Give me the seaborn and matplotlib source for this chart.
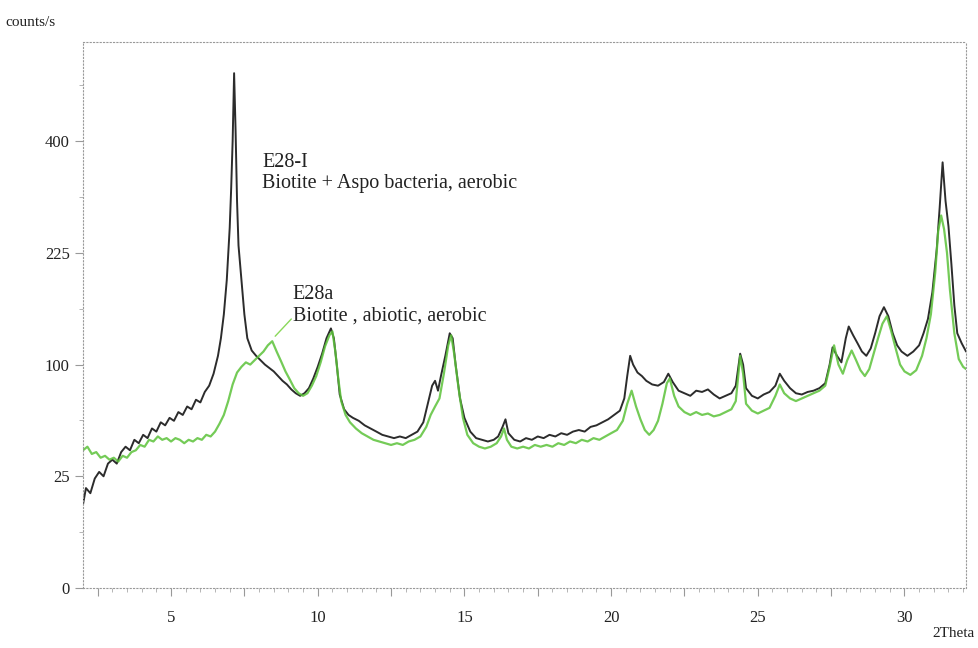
import numpy as np
import pandas as pd
import matplotlib
matplotlib.use('Agg')
import matplotlib.pyplot as plt
import seaborn as sns
from matplotlib.ticker import FixedLocator, NullFormatter

# XRD pattern (2Theta, counts/s)
theta_bact = [2.0, 2.1, 2.25, 2.4, 2.55, 2.7, 2.85, 3.0, 3.15, 3.3, 3.45, 3.6, 3.75, 3.9, 4.05, 4.2,
              4.35, 4.5, 4.65, 4.8, 4.95, 5.1, 5.25, 5.4, 5.55, 5.7, 5.85, 6.0, 6.15, 6.3, 6.45, 6.6,
              6.7, 6.8, 6.9, 7.0, 7.05, 7.1, 7.15, 7.2, 7.25, 7.3, 7.4, 7.5, 7.6, 7.75, 7.9, 8.05,
              8.2, 8.35, 8.5, 8.65, 8.8, 8.95, 9.1, 9.25, 9.4, 9.55, 9.7, 9.85, 10.0, 10.15, 10.3,
              10.45, 10.55, 10.65, 10.75, 10.9, 11.05, 11.2, 11.4, 11.6, 11.8, 12.0, 12.2, 12.4,
              12.6, 12.8, 13.0, 13.2, 13.4, 13.6, 13.75, 13.9, 14.0, 14.1, 14.2, 14.35, 14.5, 14.6,
              14.7, 14.85, 15.0, 15.2, 15.4, 15.6, 15.8, 16.0, 16.15, 16.3, 16.4, 16.5, 16.7, 16.9,
              17.1, 17.3, 17.5, 17.7, 17.9, 18.1, 18.3, 18.5, 18.7, 18.9, 19.1, 19.3, 19.5, 19.7,
              19.9, 20.1, 20.3, 20.45, 20.55, 20.65, 20.75, 20.9, 21.05, 21.2, 21.4, 21.6, 21.8,
              21.95, 22.1, 22.3, 22.5, 22.7, 22.9, 23.1, 23.3, 23.5, 23.7, 23.9, 24.1, 24.25, 24.4,
              24.5, 24.6, 24.8, 25.0, 25.2, 25.4, 25.6, 25.75, 25.9, 26.1, 26.3, 26.5, 26.7, 26.9,
              27.1, 27.3, 27.45, 27.55, 27.7, 27.85, 28.0, 28.1, 28.25, 28.4, 28.55, 28.7, 28.85,
              29.0, 29.15, 29.3, 29.45, 29.6, 29.75, 29.9, 30.1, 30.3, 30.5, 30.65, 30.8, 30.95,
              31.1, 31.2, 31.3, 31.4, 31.5, 31.6, 31.7, 31.8, 31.95, 32.1]
counts_bact = [14, 20, 18, 24, 27, 25, 31, 33, 31, 37, 40, 38, 44, 42, 47, 45,
               51, 49, 55, 53, 58, 56, 62, 60, 66, 64, 71, 69, 77, 82, 92, 108,
               125, 150, 190, 260, 320, 400, 531, 420, 300, 235, 190, 150, 125, 113, 108, 104,
               100, 97, 94, 90, 86, 83, 79, 76, 74, 76, 80, 88, 98, 110, 125,
               135, 125, 100, 75, 64, 60, 58, 56, 53, 51, 49, 47, 46,
               45, 46, 45, 47, 49, 55, 68, 82, 86, 78, 90, 108, 130, 125,
               100, 72, 58, 49, 45, 44, 43, 44, 46, 52, 57, 48, 44, 43,
               45, 44, 46, 45, 47, 46, 48, 47, 49, 50, 49, 52, 53, 55,
               57, 60, 63, 72, 90, 108, 100, 93, 90, 86, 83, 82, 85,
               92, 85, 78, 76, 74, 78, 77, 79, 75, 72, 74, 76, 82, 110,
               100, 80, 74, 72, 75, 77, 82, 92, 86, 80, 76, 75, 77, 78,
               80, 84, 100, 116, 108, 102, 125, 137, 128, 120, 112, 108, 115,
               130, 148, 158, 148, 130, 118, 112, 108, 112, 118, 130, 145, 175,
               230, 290, 363, 300, 262, 210, 160, 130, 120, 112]

theta_abio = [2.0, 2.15, 2.3, 2.45, 2.6, 2.75, 2.9, 3.05, 3.2, 3.35, 3.5, 3.65, 3.8, 3.95, 4.1, 4.25,
              4.4, 4.55, 4.7, 4.85, 5.0, 5.15, 5.3, 5.45, 5.6, 5.75, 5.9, 6.05, 6.2, 6.35, 6.5, 6.65,
              6.8, 6.95, 7.1, 7.25, 7.4, 7.55, 7.7, 7.85, 8.0, 8.15, 8.3, 8.45, 8.6, 8.75, 8.9, 9.05,
              9.2, 9.35, 9.5, 9.65, 9.8, 9.95, 10.1, 10.25, 10.4, 10.5, 10.6, 10.7, 10.8, 10.95,
              11.1, 11.3, 11.5, 11.7, 11.9, 12.1, 12.3, 12.5, 12.7, 12.9, 13.1, 13.3, 13.5, 13.7,
              13.85, 14.0, 14.15, 14.3, 14.45, 14.55, 14.65, 14.8, 14.95, 15.1, 15.3, 15.5, 15.7,
              15.9, 16.1, 16.25, 16.35, 16.45, 16.6, 16.8, 17.0, 17.2, 17.4, 17.6, 17.8, 18.0,
              18.2, 18.4, 18.6, 18.8, 19.0, 19.2, 19.4, 19.6, 19.8, 20.0, 20.2, 20.4, 20.55, 20.7,
              20.85, 21.0, 21.15, 21.3, 21.45, 21.6, 21.75, 21.9, 22.0, 22.15, 22.3, 22.5, 22.7,
              22.9, 23.1, 23.3, 23.5, 23.7, 23.9, 24.1, 24.25, 24.4, 24.5, 24.6, 24.8, 25.0, 25.2,
              25.4, 25.6, 25.75, 25.9, 26.1, 26.3, 26.5, 26.7, 26.9, 27.1, 27.3, 27.45, 27.6,
              27.75, 27.9, 28.05, 28.2, 28.35, 28.5, 28.65, 28.8, 28.95, 29.1, 29.25, 29.4, 29.55,
              29.7, 29.85, 30.0, 30.2, 30.4, 30.6, 30.75, 30.9, 31.05, 31.15, 31.25, 31.35, 31.45,
              31.55, 31.7, 31.85, 32.0, 32.1]
counts_abio = [38, 40, 36, 37, 34, 35, 33, 34, 32, 35, 34, 37, 38, 41, 40, 44,
               43, 46, 44, 45, 43, 45, 44, 42, 44, 43, 45, 44, 47, 46, 49, 54,
               60, 70, 83, 93, 98, 102, 100, 104, 108, 112, 118, 122, 112, 103, 94, 87,
               80, 76, 74, 76, 82, 90, 102, 117, 128, 132, 112, 88, 70, 60,
               55, 51, 48, 46, 44, 43, 42, 41, 42, 41, 43, 44, 46, 52,
               60, 66, 72, 92, 118, 128, 110, 80, 58, 47, 42, 40, 39,
               40, 42, 46, 51, 44, 40, 39, 40, 39, 41, 40, 41, 40,
               42, 41, 43, 42, 44, 43, 45, 44, 46, 48, 50, 56, 68, 78,
               66, 57, 50, 47, 50, 56, 68, 84, 88, 74, 66, 62, 60,
               62, 60, 61, 59, 60, 62, 64, 70, 108, 92, 68, 63, 61, 63,
               65, 74, 83, 76, 72, 70, 72, 74, 76, 78, 82, 98, 118,
               100, 92, 104, 113, 104, 95, 90, 96, 110, 125, 140, 148, 132,
               115, 100, 94, 91, 95, 108, 125, 150, 200, 255, 278, 258, 225,
               178, 130, 105, 98, 96]

y_ticks = [0, 25, 100, 225, 400]
x_ticks = [5, 10, 15, 20, 25, 30]

df_bact = pd.DataFrame({'theta': theta_bact, 'counts': counts_bact})
df_abio = pd.DataFrame({'theta': theta_abio, 'counts': counts_abio})

sns.set_style('white')
plt.rcParams['font.family'] = ['Liberation Serif', 'DejaVu Serif']

fig = plt.figure(figsize=(9.79, 6.48), dpi=100)
ax = fig.add_axes([0.0848, 0.0926, 0.902, 0.8424])

sns.lineplot(data=df_bact, x='theta', y='counts', ax=ax, color='#151515', lw=1.4, alpha=0.9)
sns.lineplot(data=df_abio, x='theta', y='counts', ax=ax, color='#5cc23a', lw=1.6, alpha=0.85)

# square root intensity axis
ax.set_yscale('function', functions=(lambda v: np.sqrt(np.clip(v, 0, None)), lambda v: np.square(v)))
ax.set_ylim(0, 597)
ax.set_xlim(2, 32.1)

ax.set_yticks(y_ticks)
ax.set_yticklabels([str(t) for t in y_ticks])
ax.yaxis.set_minor_locator(FixedLocator([6.25, 56.25, 156.25, 306.25, 506.25]))
ax.yaxis.set_minor_formatter(NullFormatter())
major_x = np.arange(2.5, 32.1, 2.5)
ax.set_xticks(major_x)
ax.set_xticklabels(['' if t % 5 else str(int(t)) for t in major_x])
ax.xaxis.set_minor_locator(FixedLocator(np.arange(2.5, 32.1, 0.5)))
ax.xaxis.set_minor_formatter(NullFormatter())

ax.tick_params(axis='both', which='both', bottom=True, left=True, top=False, right=False)
ax.tick_params(axis='both', which='major', direction='out', length=6, width=0.8,
               color='#999999', labelsize=12, labelcolor='#222222')
ax.tick_params(axis='both', which='minor', direction='out', length=3, width=0.6, color='#aaaaaa')
ax.tick_params(axis='x', which='major', pad=10)

for s in ax.spines.values():
    s.set_linestyle((0, (1, 2)))
    s.set_color('#999999')
    s.set_linewidth(0.8)

ax.set_xlabel('')
ax.set_ylabel('')
fig.text(0.005, 0.965, 'counts/s', fontsize=11, color='#222222', ha='left', va='center')
fig.text(0.996, 0.022, '2Theta', fontsize=11, color='#222222', ha='right', va='center')

ax.text(8.1, 345, 'E28-I\nBiotite + Aspo bacteria, aerobic', fontsize=14.5, color='#222222',
        ha='left', va='center', linespacing=1.15)
ax.text(9.15, 160, 'E28a\nBiotite , abiotic, aerobic', fontsize=14.5, color='#222222',
        ha='left', va='center', linespacing=1.15)
ax.plot([9.1, 8.55], [145, 127], color='#8ad85a', lw=1)

fig.savefig('out.png', dpi=100)
